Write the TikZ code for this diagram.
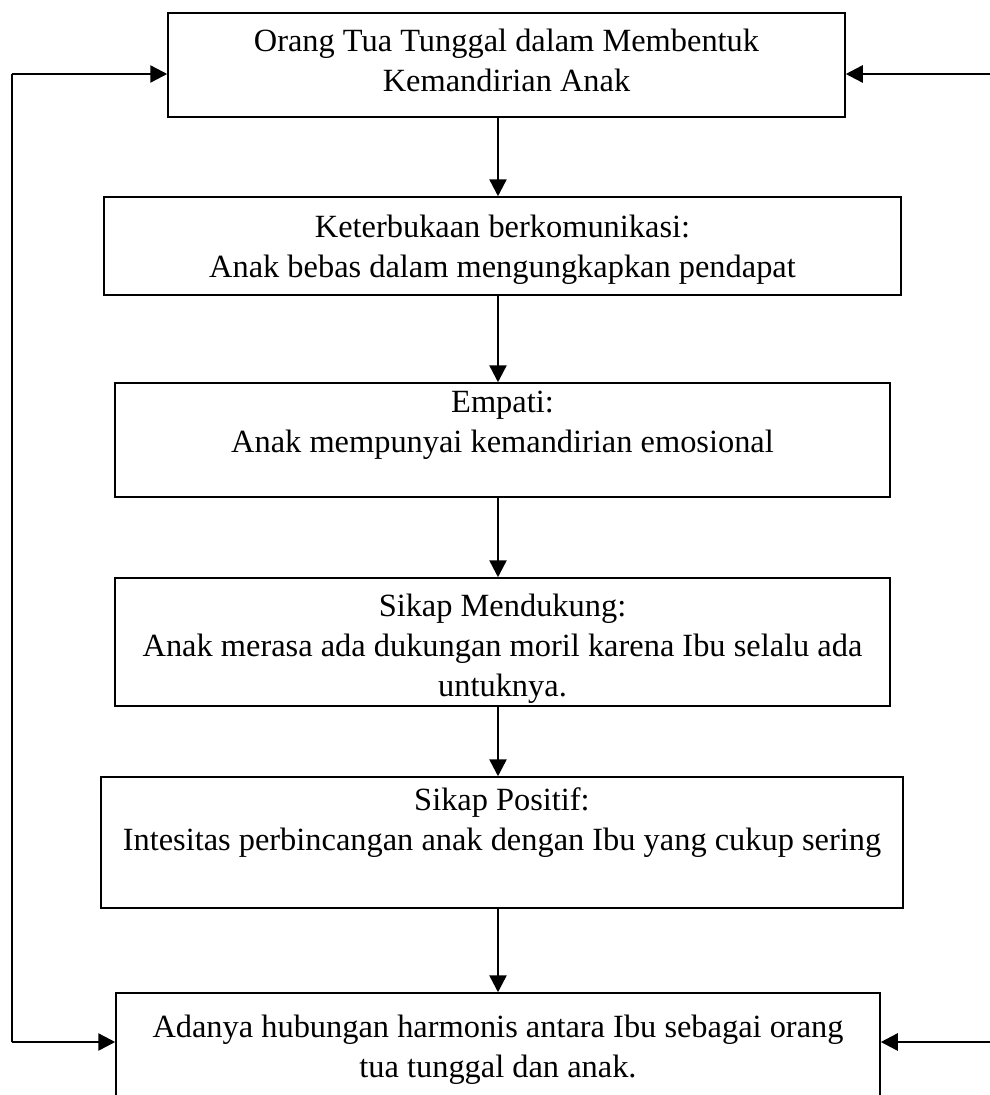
\documentclass[tikz,border=0pt]{standalone}
\usepackage{fontspec}
\setmainfont{Liberation Serif}
\usetikzlibrary{arrows.meta}
\begin{document}
\begin{tikzpicture}[x=1pt,y=-1pt,
  box/.style={draw=black, line width=1.5pt, inner sep=0pt, fill=white},
  txt/.style={anchor=north, align=center, inner sep=0pt, font=\fontsize{32.4}{40}\selectfont},
  arr/.style={line width=2.5pt, -{Triangle[length=17pt,width=17pt]}}]
\useasboundingbox (0,0) rectangle (990,1095);
\begin{scope}
\clip (0,0) rectangle (990,1095);
\node[box, minimum width=677pt, minimum height=104pt] (b1) at (506.5,65) {};
\node[box, minimum width=797pt, minimum height=98pt] (b2) at (502.5,246) {};
\node[box, minimum width=775pt, minimum height=114pt] (b3) at (502.5,440) {};
\node[box, minimum width=775pt, minimum height=128pt] (b4) at (502.5,642) {};
\node[box, minimum width=802pt, minimum height=131pt] (b5) at (502,842.5) {};
\node[box, minimum width=764pt, minimum height=130pt] (b6) at (498,1058) {};

\node[txt] (t1) at ([yshift=-17pt]b1.north) {Orang Tua Tunggal dalam Membentuk\\Kemandirian Anak};
\node[txt] (t2) at ([yshift=-19pt]b2.north) {Keterbukaan berkomunikasi:\\Anak bebas dalam mengungkapkan pendapat};
\node[txt] (t3) at ([yshift=-9pt]b3.north) {Empati:\\Anak mempunyai kemandirian emosional};
\node[txt] (t4) at ([yshift=-17pt]b4.north) {Sikap Mendukung:\\Anak merasa ada dukungan moril karena Ibu selalu ada\\untuknya.};
\node[txt] (t5) at ([yshift=-11pt]b5.north) {Sikap Positif:\\Intesitas perbincangan anak dengan Ibu yang cukup sering};
\node[txt] (t6) at ([yshift=-23pt]b6.north) {Adanya hubungan harmonis antara Ibu sebagai orang\\tua tunggal dan anak.};

\draw[arr] (b1.south -| b6.north) -- (b2.north -| b6.north);
\draw[arr] (b2.south -| b6.north) -- (b3.north -| b6.north);
\draw[arr] (b3.south -| b6.north) -- (b4.north -| b6.north);
\draw[arr] (b4.south -| b6.north) -- (b5.north -| b6.north);
\draw[arr] (b5.south -| b6.north) -- (b6.north);

\coordinate (lb) at (12,1042);
\coordinate (lt) at (12,74);
\coordinate (rt) at (990,74);
\coordinate (rb) at (990,1042);
\draw[line width=2.5pt] (lb) -- (lt);
\draw[arr] (lt) -- (lt -| b1.west);
\draw[arr] (lb) -- (lb -| b6.west);
\draw[arr] (rt) -- (rt -| b1.east);
\draw[arr] (rb) -- (rb -| b6.east);
\end{scope}
\end{tikzpicture}
\end{document}
